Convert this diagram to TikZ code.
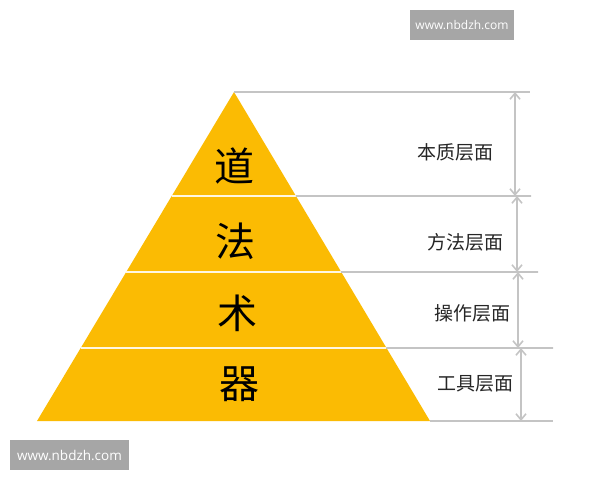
\documentclass[tikz,border=0pt]{standalone}
\usepackage{fontspec}
\setmainfont{Open Sans}
\newfontfamily\cjk{Noto Sans CJK SC}
\usepackage{tikz}
\usetikzlibrary{arrows.meta,calc}
\definecolor{pyrgold}{HTML}{FBBB03}
\definecolor{guidegray}{HTML}{C4C4C4}
\definecolor{markgray}{HTML}{A6A6A6}
\tikzset{
  level/.style={font=\cjk\fontsize{40}{40}\selectfont},
  tag/.style={font=\cjk\fontsize{19}{19}\selectfont, text=black!85},
  guide/.style={draw=guidegray, line width=1.6pt},
  span/.style={guide, {Straight Barb[length=6pt,width=10pt]}-{Straight Barb[length=6pt,width=10pt]}},
  divider/.style={draw=white!88!pyrgold, line width=2.6pt},
  stamp/.style={fill=markgray, text=white, inner sep=0pt, minimum height=30pt},
}

\begin{document}
\begin{tikzpicture}[x=1pt,y=-1pt]
\useasboundingbox (0,0) rectangle (600,480);
%
\coordinate (apex) at (234,92);
\coordinate (bl) at (37,421);
\coordinate (br) at (430,421);
\fill[pyrgold] (apex) -- (bl) -- (br) -- cycle;
\coordinate (l1) at ($(apex)!0.316!(bl)$);
\coordinate (r1) at ($(apex)!0.316!(br)$);
\coordinate (l2) at ($(apex)!0.547!(bl)$);
\coordinate (r2) at ($(apex)!0.547!(br)$);
\coordinate (l3) at ($(apex)!0.778!(bl)$);
\coordinate (r3) at ($(apex)!0.778!(br)$);
\draw[divider] (l1) -- (r1);
\draw[divider] (l2) -- (r2);
\draw[divider] (l3) -- (r3);
%
\node[level] (dao) at (234,166) {道};
\node[level] (fa) at (235,241) {法};
\node[level] (shu) at (237,313) {术};
\node[level] (qi) at (239,384) {器};
%
\coordinate (e0) at (530,92);
\coordinate (e1) at (531,196);
\coordinate (e2) at (538,272);
\coordinate (e3) at (553,348);
\coordinate (e4) at (553,421);
\draw[guide] (apex) -- (e0);
\draw[guide] (r1) -- (e1);
\draw[guide] (r2) -- (e2);
\draw[guide] (r3) -- (e3);
\draw[guide] (br) -- (e4);
%
\coordinate (a0) at (515,92);
\coordinate (b0) at (515,196);
\coordinate (a1) at (517,196);
\coordinate (b1) at (517,272);
\coordinate (a2) at (518,272);
\coordinate (b2) at (518,348);
\coordinate (a3) at (521,348);
\coordinate (b3) at (521,421);
\foreach \i in {0,...,3}
  \draw[span] (a\i) -- (b\i);
%
\node[tag] (benzhi) at (455,152) {本质层面};
\node[tag] (fangfa) at (465,242) {方法层面};
\node[tag] (caozuo) at (472,313) {操作层面};
\node[tag] (gongju) at (475,384) {工具层面};
%
\node[stamp, minimum width=104pt, font=\fontsize{12}{12}\selectfont] (wmtop) at (462,25) {www.nbdzh.com};
\node[stamp, minimum width=119pt, font=\fontsize{13.5}{13.5}\selectfont] (wmbot) at (69.5,455) {www.nbdzh.com};
\end{tikzpicture}
\end{document}
